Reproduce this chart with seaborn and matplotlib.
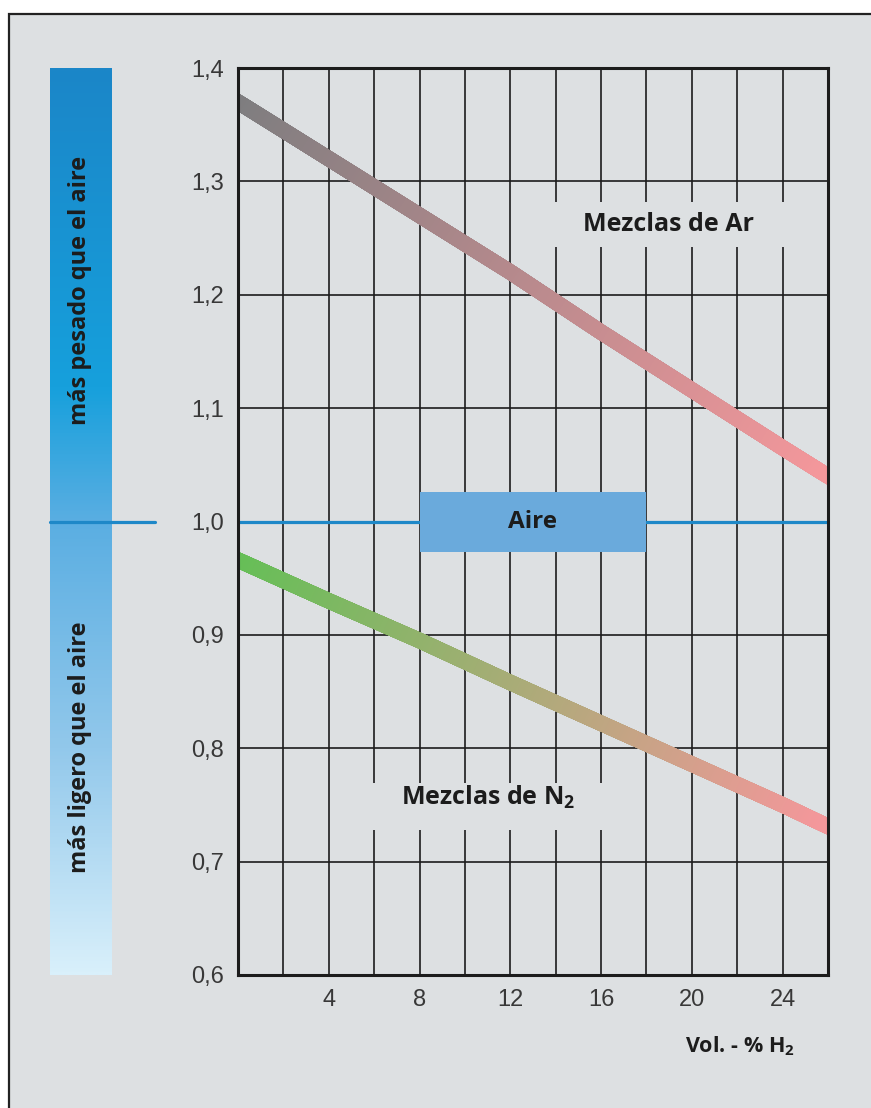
import numpy as np
import pandas as pd
import matplotlib
matplotlib.use("Agg")
import matplotlib.pyplot as plt
import seaborn as sns
from matplotlib.collections import LineCollection
from matplotlib.colors import LinearSegmentedColormap
from matplotlib.patches import Rectangle
from matplotlib.lines import Line2D
from matplotlib.transforms import blended_transform_factory

# ---------------- data ----------------
h2_pct = [0, 4, 8, 12, 16, 20, 24, 26]
ar_mix = [1.370, 1.320, 1.270, 1.220, 1.167, 1.116, 1.065, 1.040]
n2_mix = [0.966, 0.930, 0.895, 0.858, 0.822, 0.786, 0.750, 0.731]
air_ratio = 1.0

y_ticks = [0.6, 0.7, 0.8, 0.9, 1.0, 1.1, 1.2, 1.3, 1.4]
y_tick_labels = ["0,6", "0,7", "0,8", "0,9", "1,0", "1,1", "1,2", "1,3", "1,4"]
x_ticks = [4, 8, 12, 16, 20, 24]
x_tick_labels = ["4", "8", "12", "16", "20", "24"]
x_grid_minor = [2, 6, 10, 14, 18, 22]

label_ar = "Mezclas de Ar"
label_n2 = "Mezclas de N$_2$"
label_air = "Aire"
label_heavy = "más pesado que el aire"
label_light = "más ligero que el aire"
x_label = "Vol. - % H$_2$"

# ---------------- style ----------------
sns.set_theme(style="white")
BG = "#dde0e2"
INK = "#1c1c1c"
plt.rcParams["font.family"] = ["Open Sans", "DejaVu Sans"]
plt.rcParams["mathtext.fontset"] = "custom"
plt.rcParams["mathtext.rm"] = "Open Sans:bold"
plt.rcParams["mathtext.default"] = "rm"

W_PX, H_PX = 871, 1108
fig = plt.figure(figsize=(W_PX / 100, H_PX / 100), dpi=100)
fig.patch.set_facecolor("white")

# gray panel with dark top/left frame
fig.patches.append(Rectangle((9 / W_PX, -0.05), 1.2, 1 - 14 / H_PX + 0.05,
                             transform=fig.transFigure, facecolor=BG,
                             edgecolor="#222222", linewidth=1.6, zorder=-10))

L, R = 238 / W_PX, 828 / W_PX
T, B = 1 - 68 / H_PX, 1 - 975 / H_PX
ax = fig.add_axes([L, B, R - L, T - B])
ax.set_facecolor("none")

ax.set_xlim(0, 26)
ax.set_ylim(0.6, 1.4)
ax.set_xticks(x_ticks)
ax.set_xticklabels(x_tick_labels)
ax.set_xticks(x_grid_minor, minor=True)
ax.set_yticks(y_ticks)
ax.set_yticklabels(y_tick_labels)
ax.set_axisbelow(True)
ax.grid(True, which="both", color=INK, linewidth=1.2)
ax.tick_params(which="both", length=0, labelsize=17, labelcolor="#383838")
ax.tick_params(axis="y", pad=10)
ax.tick_params(axis="x", pad=10)
for lab in ax.get_xticklabels() + ax.get_yticklabels():
    lab.set_fontfamily(["Liberation Sans", "DejaVu Sans"])
for sp in ax.spines.values():
    sp.set_visible(True)
    sp.set_color(INK)
    sp.set_linewidth(2.2)
    sp.set_zorder(6)
ax.set_xlabel("")
ax.set_ylabel("")

# gaps in grid behind the labels
ax.add_patch(Rectangle((13, 1.242), 13, 0.040, facecolor=BG, edgecolor="none", zorder=1))
ax.add_patch(Rectangle((5, 0.728), 12, 0.041, facecolor=BG, edgecolor="none", zorder=1))

# air line and box
ax.axhline(air_ratio, color="#1e88c8", linewidth=2.3, zorder=1.5)
ax.add_patch(Rectangle((8, 0.973), 10, 0.053, facecolor="#6aaadc", edgecolor="none", zorder=2))
ax.text(13, air_ratio, label_air, ha="center", va="center", fontsize=17.5,
        fontweight="bold", color=INK, zorder=3)

# curves
def gradient_band(x, y, c0, c1, lw=11):
    sns.lineplot(x=x, y=y, ax=ax, color=c0, linewidth=lw, zorder=3)
    x = np.asarray(x, float)
    y = np.asarray(y, float)
    xs = np.linspace(x[0], x[-1], 500)
    ys = np.interp(xs, x, y)
    pts = np.column_stack([xs, ys])
    segs = np.stack([pts[:-1], pts[1:]], axis=1)
    t = (xs[:-1] + xs[1:]) / 2 / 26.0
    cmap = LinearSegmentedColormap.from_list("g", [c0, c1])
    lc = LineCollection(segs, colors=cmap(t), linewidths=lw,
                        capstyle="projecting", zorder=4)
    ax.add_collection(lc)

gradient_band(h2_pct, ar_mix, "#7d7d7f", "#f4979b")
gradient_band(h2_pct, n2_mix, "#64bf56", "#f4979b")

ax.text(18.95, 1.262, label_ar, ha="center", va="center", fontsize=18,
        fontweight="bold", color=INK, zorder=3)
ax.text(11.0, 0.757, label_n2, ha="center", va="center", fontsize=18,
        fontweight="bold", color=INK, zorder=3)

# left gradient bar
bax = fig.add_axes([50 / W_PX, B, 61 / W_PX, T - B])
bar_cmap = LinearSegmentedColormap.from_list(
    "bar", [(0.0, "#1b86c8"), (0.35, "#16a0dc"), (0.5, "#5aaee2"),
            (0.75, "#92c8eb"), (1.0, "#d9f0fb")])
grad = np.linspace(0, 1, 512).reshape(-1, 1)
bax.imshow(grad, aspect="auto", cmap=bar_cmap, extent=[0, 1, 0.6, 1.4], origin="upper")
bax.set_xlim(0, 1)
bax.set_ylim(0.6, 1.4)
bax.axis("off")
bax.text(0.5, 1.204, label_heavy, rotation=90, ha="center", va="center",
         fontsize=17, fontweight="bold", color=INK)
bax.text(0.5, 0.801, label_light, rotation=90, ha="center", va="center",
         fontsize=17, fontweight="bold", color=INK)

# left marker line at 1.0
tr = blended_transform_factory(fig.transFigure, ax.transData)
fig.lines.append(Line2D([50 / W_PX, 155 / W_PX], [air_ratio, air_ratio],
                        transform=tr, color="#1e88c8", linewidth=2.3))

fig.text(740 / W_PX, 1 - 1046 / H_PX, x_label, ha="center", va="center",
         fontsize=15.5, fontweight="bold", color=INK)

fig.savefig("out.png", dpi=100, facecolor=fig.get_facecolor())
